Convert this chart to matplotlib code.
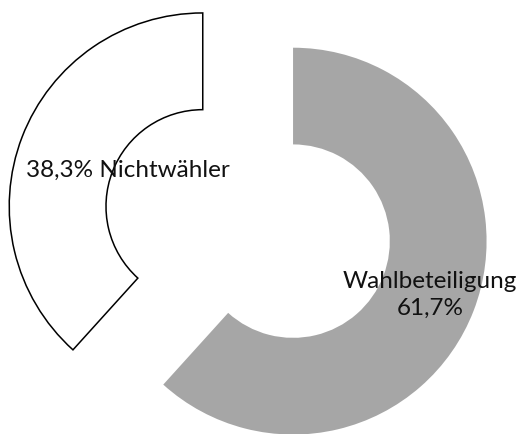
import numpy as np
import matplotlib
matplotlib.use("Agg")
import matplotlib.pyplot as plt

labels = ["Wahlbeteiligung\n61,7%", "38,3% Nichtwähler"]
values = [61.7, 38.3]
colors = ["#a6a6a6", "#ffffff"]
edges = ["none", "black"]
label_r = [0.76, 0.43]     # label distance from slice centre (outer radius = 1)
label_shift = [0, -5]      # small angular nudge in degrees

plt.rcParams["font.family"] = ["Lato", "DejaVu Sans"]

fig = plt.figure(figsize=(5.2, 4.35), dpi=100)
ax = fig.add_axes([0, 0, 1, 1])
wedges, _ = ax.pie(values, colors=colors, startangle=90, counterclock=False,
                   explode=[0.25, 0.25], radius=1.0,
                   wedgeprops=dict(width=0.5, linewidth=1.1))
for w, ec in zip(wedges, edges):
    w.set_edgecolor(ec)

for w, lab, r, d in zip(wedges, labels, label_r, label_shift):
    ang = np.deg2rad((w.theta1 + w.theta2) / 2 + d)
    cx, cy = w.center
    ax.text(cx + r * np.cos(ang), cy + r * np.sin(ang), lab, ha="center", va="center",
            fontsize=17.5, color="#111111", linespacing=1.35)

ax.set_xlim(-1.281, 1.406)
ax.set_ylim(-1.087, 1.162)
ax.set_aspect("auto")
ax.axis("off")
fig.savefig("out.png", dpi=100)
